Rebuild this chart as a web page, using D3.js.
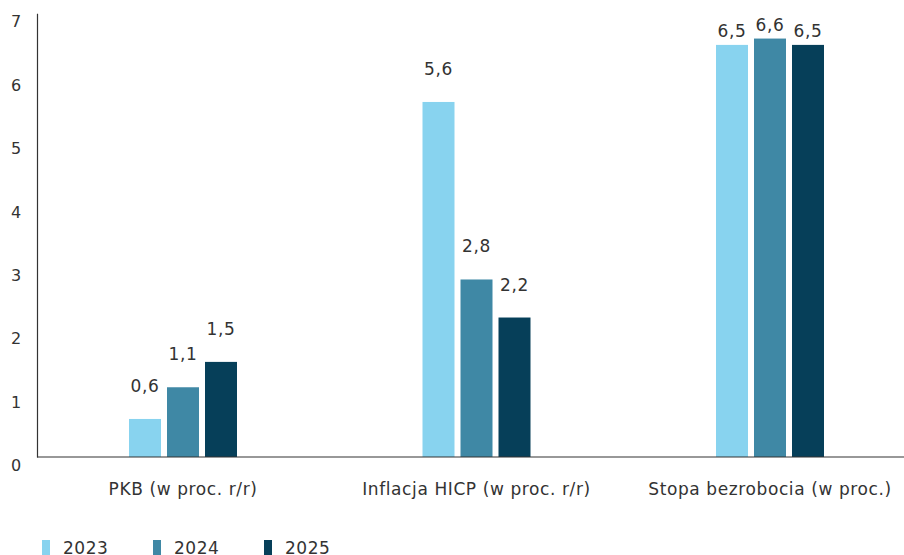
<!DOCTYPE html>
<html>
<head>
<meta charset="utf-8">
<script src="https://cdn.jsdelivr.net/npm/d3@7"></script>
<style>
  body { margin: 0; background: #fff; }
  text { font-family: "DejaVu Sans", sans-serif; fill: #333; }
</style>
</head>
<body>
<div id="chart"></div>
<script>
const categories = ["PKB (w proc. r/r)", "Inflacja HICP (w proc. r/r)", "Stopa bezrobocia (w proc.)"]
const years = ["2023", "2024", "2025"]
const values2023 = [0.6, 5.6, 6.5]
const values2024 = [1.1, 2.8, 6.6]
const values2025 = [1.5, 2.2, 6.5]
const yTicks = [0, 1, 2, 3, 4, 5, 6, 7]
const colors = ["#88d3ef", "#3f88a5", "#063f59"]

const width = 904
const height = 555
const series = [values2023, values2024, values2025]

const data = categories.map((c, i) => ({
    cat: c,
    vals: years.map((y, j) => ({ year: y, v: series[j][i] }))
}))

const svg = d3.select('#chart')
    .append('svg')
    .attr('width', width)
    .attr('height', height)

const x0 = d3.scaleBand()
    .domain(categories)
    .range([36.25, 916.75])
    .paddingInner(0)

// bars 32 wide with 6px gaps
const x1 = d3.scaleBand()
    .domain(years)
    .range([x0.bandwidth()/2 - 54, x0.bandwidth()/2 + 54])
    .paddingInner(6/38)

const y = d3.scaleLinear()
    .domain([0, 7])
    .range([457, 13.2])

// y axis
const yAxis = d3.axisLeft(y).tickValues(yTicks).tickSize(0).tickFormat(d => d)
const yAxisG = svg.append('g')
    .attr('transform', 'translate(37,0)')
    .call(yAxis)
yAxisG.select('.domain').attr('stroke', '#333').attr('stroke-width', 1.2)
yAxisG.selectAll('.tick text')
    .attr('x', -21)
    .attr('dy', '0.85em')
    .attr('text-anchor', 'middle')
    .style('font-size', '16px')
    .style('font-family', '"DejaVu Sans", sans-serif')
    .attr('fill', '#333')

const groups = svg.append('g')
    .selectAll('g')
    .data(data)
    .join('g')
    .attr('transform', d => `translate(${x0(d.cat)},0)`)

groups.selectAll('rect')
    .data(d => d.vals)
    .join('rect')
    .attr('x', d => x1(d.year))
    .attr('width', x1.bandwidth())
    .attr('y', d => y(d.v))
    .attr('height', d => y(0) - y(d.v))
    .attr('fill', (d, i) => colors[i])

groups.selectAll('.val')
    .data(d => d.vals)
    .join('text')
    .attr('class', 'val')
    .attr('x', d => x1(d.year) + x1.bandwidth()/2)
    .attr('y', d => {
        let t = y(d.v) - 27
        return t < 30 ? y(d.v) - 7.5 : t
    })
    .attr('text-anchor', 'middle')
    .style('font-size', '17px')
    .style('letter-spacing', '0.6px')
    .text(d => String(d.v).replace('.', ','))

// zero line
svg.append('line')
    .attr('x1', 37).attr('x2', width)
    .attr('y1', y(0)).attr('y2', y(0))
    .attr('stroke', '#333').attr('stroke-width', 1.2)

// category labels
svg.append('g')
    .selectAll('text')
    .data(categories)
    .join('text')
    .attr('x', d => x0(d) + x0.bandwidth()/2)
    .attr('y', 495)
    .attr('text-anchor', 'middle')
    .style('font-size', '17px')
    .style('letter-spacing', '0.6px')
    .text(d => d)

// legend
const legend = svg.append('g')
    .selectAll('g')
    .data(years)
    .join('g')
    .attr('transform', (d, i) => `translate(${42 + i * 111},540)`)
legend.append('rect')
    .attr('width', 8).attr('height', 16)
    .attr('fill', (d, i) => colors[i])
legend.append('text')
    .attr('x', 21).attr('y', 14)
    .style('font-size', '17px')
    .style('letter-spacing', '0.5px')
    .text(d => d)
</script>
</body>
</html>
